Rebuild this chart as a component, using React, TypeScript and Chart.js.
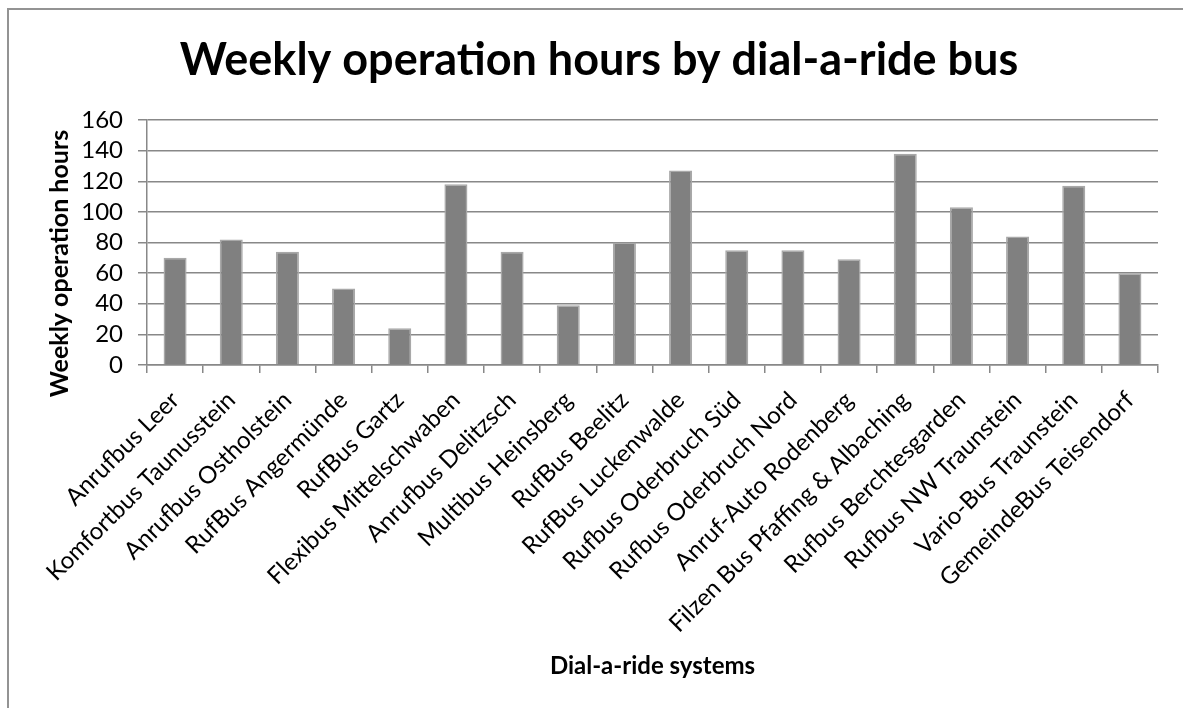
import React, { useEffect, useRef } from "react";
import { Chart, registerables } from "chart.js";

Chart.register(...registerables);

const chartTitle = "Weekly operation hours by dial-a-ride bus";
const yAxisTitle = "Weekly operation hours";
const xAxisTitle = "Dial-a-ride systems";

const categories = [
  "Anrufbus Leer",
  "Komfortbus Taunusstein",
  "Anrufbus Ostholstein",
  "RufBus Angermünde",
  "RufBus Gartz",
  "Flexibus Mittelschwaben",
  "Anrufbus Delitzsch",
  "Multibus Heinsberg",
  "RufBus Beelitz",
  "RufBus Luckenwalde",
  "Rufbus Oderbruch Süd",
  "Rufbus Oderbruch Nord",
  "Anruf-Auto Rodenberg",
  "Filzen Bus Pfaffing & Albaching",
  "Rufbus Berchtesgarden",
  "Rufbus NW Traunstein",
  "Vario-Bus Traunstein",
  "GemeindeBus Teisendorf",
];

const weeklyHours = [70, 82, 74, 50, 24, 118, 74, 39, 80, 127, 75, 75, 69, 138, 103, 84, 117, 60];

const yMin = 0;
const yMax = 160;
const yStep = 20;

const FONT = "Lato, 'Open Sans', sans-serif";
const GRID = "#888888";

const yTitlePlugin = {
  id: "yTitleText",
  afterDraw(chart: any) {
    const ctx = chart.ctx;
    ctx.save();
    ctx.translate(59.5, 263.5);
    ctx.rotate(-Math.PI / 2);
    ctx.font = `bold 25px ${FONT}`;
    ctx.fillStyle = "#000";
    ctx.textAlign = "center";
    ctx.textBaseline = "middle";
    ctx.fillText(yAxisTitle, 0, 0);
    ctx.restore();
  },
};

export default function App() {
  const ref = useRef<HTMLCanvasElement | null>(null);

  useEffect(() => {
    if (!ref.current) return;
    const chart = new Chart(ref.current, {
      type: "bar",
      data: {
        labels: categories,
        datasets: [
          {
            label: yAxisTitle,
            data: weeklyHours,
            backgroundColor: "#808080",
            borderColor: "#a8a8a8",
            borderWidth: 1.5,
            barPercentage: 0.41,
            categoryPercentage: 1,
          },
        ],
      },
      options: {
        animation: false,
        responsive: false,
        devicePixelRatio: 1,
        layout: {
          autoPadding: false,
          padding: { left: 40, right: 25, top: 0, bottom: 0 },
        },
        plugins: {
          legend: { display: false },
          tooltip: { enabled: false },
          title: {
            display: true,
            text: chartTitle,
            color: "#000",
            font: { family: FONT, size: 45, weight: "bold", lineHeight: 1.2 },
            padding: { top: 33, bottom: 33 },
          },
        },
        scales: {
          x: {
            offset: true,
            grid: {
              display: true,
              drawOnChartArea: false,
              drawTicks: true,
              tickLength: 8,
              color: GRID,
              lineWidth: 1.5,
            },
            border: { display: true, color: GRID, width: 1.5 },
            ticks: {
              autoSkip: false,
              maxRotation: 45,
              minRotation: 45,
              padding: 13,
              color: "#000",
              font: { family: FONT, size: 24 },
            },
            title: {
              display: true,
              text: xAxisTitle,
              color: "#000",
              font: { family: FONT, size: 24, weight: "bold", lineHeight: 1.2 },
              padding: { top: 4, bottom: 27 },
            },
            afterFit(scale: any) {
              scale.height = 708 - 365;
              scale.paddingLeft = 0;
              scale.paddingRight = 0;
            },
          },
          y: {
            min: yMin,
            max: yMax,
            ticks: {
              stepSize: yStep,
              autoSkip: false,
              padding: 15,
              color: "#000",
              font: { family: FONT, size: 24 },
            },
            grid: {
              color: GRID,
              lineWidth: 1.5,
              drawTicks: true,
              tickLength: 9,
            },
            border: { display: true, color: GRID, width: 1.5 },
            afterFit(scale: any) {
              scale.width = 107;
              scale.paddingTop = 0;
              scale.paddingBottom = 0;
            },
          },
        },
      },
      plugins: [yTitlePlugin],
    });
    return () => chart.destroy();
  }, []);

  return (
    <>
      <div
        style={{
          position: "fixed",
          left: 7,
          top: 8,
          width: 1400,
          height: 1000,
          borderTop: "2px solid #939393",
          borderLeft: "2px solid #939393",
          pointerEvents: "none",
        }}
      />
      <div style={{ position: "fixed", left: 0, top: 0, width: 1183, height: 708 }}>
        <canvas ref={ref} width={1183} height={708} style={{ display: "block" }} />
      </div>
    </>
  );
}
